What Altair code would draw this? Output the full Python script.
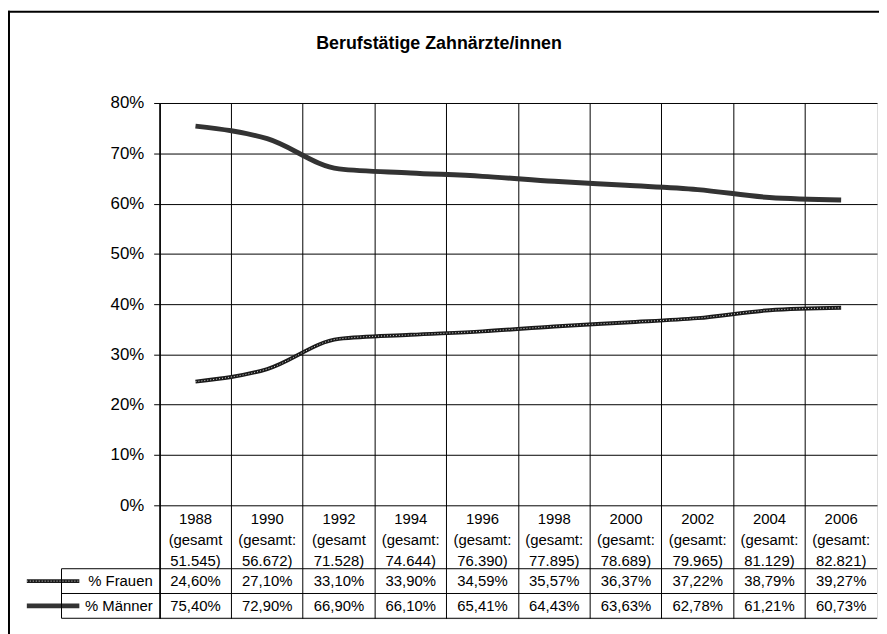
import altair as alt
import pandas as pd

# ---- data ----
years = ["1988", "1990", "1992", "1994", "1996", "1998", "2000", "2002", "2004", "2006"]
gesamt_prefix = ["(gesamt", "(gesamt:", "(gesamt", "(gesamt:", "(gesamt:", "(gesamt:",
                 "(gesamt:", "(gesamt:", "(gesamt:", "(gesamt:"]
gesamt_total = ["51.545", "56.672", "71.528", "74.644", "76.390", "77.895",
                "78.689", "79.965", "81.129", "82.821"]
frauen = [24.60, 27.10, 33.10, 33.90, 34.59, 35.57, 36.37, 37.22, 38.79, 39.27]
maenner = [75.40, 72.90, 66.90, 66.10, 65.41, 64.43, 63.63, 62.78, 61.21, 60.73]
series_names = ["% Frauen", "% Männer"]
y_ticks = [i / 10 for i in range(9)]
title_text = "Berufstätige Zahnärzte/innen"

FONT = "Liberation Sans"

# ---- layout (plot area + data table share one y scale) ----
W, H = 724, 520
PX_PER_UNIT = 507.5
Y_TOP = 0.8


def y_at(px):
    return Y_TOP - px / PX_PER_UNIT


Y_MIN = y_at(H)
ROW1 = y_at(470)
ROW2 = y_at(495)
HEAD_FIRST = y_at(420)
FR_C = y_at(482.5)
MA_C = y_at(507.5)


def de_pct(v):
    return f"{v:.2f}".replace(".", ",") + "%"


fr_df = pd.DataFrame({"year": years, "value": [v / 100 for v in frauen]})
ma_df = pd.DataFrame({"year": years, "value": [v / 100 for v in maenner]})

head_df = pd.DataFrame({
    "year": years,
    "label": [f"{y}\n{p}\n{t})" for y, p, t in zip(years, gesamt_prefix, gesamt_total)],
    "ypos": [HEAD_FIRST] * len(years),
})
vals_df = pd.DataFrame({
    "year": years * 2,
    "label": [de_pct(v) for v in frauen] + [de_pct(v) for v in maenner],
    "ypos": [FR_C] * len(years) + [MA_C] * len(years),
})
names_df = pd.DataFrame({"name": series_names, "ypos": [FR_C, MA_C]})
hlines_df = pd.DataFrame({"ypos": [ROW1, ROW2, Y_MIN]})
title_df = pd.DataFrame({"t": [title_text]})

x_scale = alt.Scale(domain=years, type="band", paddingInner=0, paddingOuter=0)
y_scale = alt.Scale(domain=[Y_MIN, Y_TOP], nice=False, zero=False)

x_axis = alt.Axis(grid=True, gridColor="black", gridWidth=1, bandPosition=0,
                  labels=False, ticks=False, domain=False, title=None)
y_axis = alt.Axis(values=y_ticks, format=".0%", labelFontSize=17, labelFont=FONT,
                  labelColor="black", tickColor="black", tickSize=6, tickWidth=1,
                  domainColor="black", domainWidth=1.5, gridColor="black", gridWidth=1,
                  grid=True, labelPadding=10, title=None)

X = alt.X("year:N", scale=x_scale, bandPosition=0.5, axis=x_axis)


def Y(field="value"):
    return alt.Y(f"{field}:Q", scale=y_scale, axis=y_axis)


ma_line = alt.Chart(ma_df).mark_line(color="#333333", strokeWidth=5, interpolate="monotone").encode(
    x=X, y=Y())
fr_line = alt.Chart(fr_df).mark_line(color="#1a1a1a", strokeWidth=4, interpolate="monotone").encode(
    x=X, y=Y())
fr_dash = alt.Chart(fr_df).mark_line(color="#dddddd", strokeWidth=1, strokeDash=[1, 2],
                                     interpolate="monotone").encode(x=X, y=Y())

head_text = alt.Chart(head_df).mark_text(font=FONT, fontSize=15, lineBreak="\n", lineHeight=21,
                                         baseline="middle", color="black").encode(
    x=X, y=Y("ypos"), text="label:N")
vals_text = alt.Chart(vals_df).mark_text(font=FONT, fontSize=15, baseline="middle", color="black").encode(
    x=X, y=Y("ypos"), text="label:N")

names_text = alt.Chart(names_df).mark_text(font=FONT, fontSize=15, baseline="middle", align="right",
                                           color="black").encode(
    x=alt.value(-7), y=Y("ypos"), text="name:N")

fr_sym = alt.Chart(names_df.iloc[[0]]).mark_rule(color="#1a1a1a", strokeWidth=4).encode(
    x=alt.value(-134), x2=alt.value(-81), y=Y("ypos"))
fr_sym_dash = alt.Chart(names_df.iloc[[0]]).mark_rule(color="#dddddd", strokeWidth=1,
                                                      strokeDash=[1, 2]).encode(
    x=alt.value(-134), x2=alt.value(-81), y=Y("ypos"))
ma_sym = alt.Chart(names_df.iloc[[1]]).mark_rule(color="#333333", strokeWidth=5).encode(
    x=alt.value(-134), x2=alt.value(-81), y=Y("ypos"))

hlines = alt.Chart(hlines_df).mark_rule(color="black", strokeWidth=1).encode(
    x=alt.value(-99), x2=alt.value(W), y=Y("ypos"))
vline = alt.Chart(hlines_df.iloc[[0]]).mark_rule(color="black", strokeWidth=1).encode(
    x=alt.value(-99), y=alt.Y(datum=ROW1, scale=y_scale, axis=y_axis), y2=alt.Y2(datum=Y_MIN))

title_mark = alt.Chart(title_df).mark_text(font=FONT, fontSize=18, fontWeight="bold",
                                           baseline="middle", align="center", color="black").encode(
    x=alt.value(282), y=alt.value(-60), text="t:N")

frame_top = alt.Chart(hlines_df.iloc[[0]]).mark_rule(color="black", strokeWidth=2).encode(
    x=alt.value(-153), x2=alt.value(W + 10), y=alt.value(-92))
frame_left = alt.Chart(hlines_df.iloc[[0]]).mark_rule(color="black", strokeWidth=2).encode(
    x=alt.value(-152), y=alt.value(-93), y2=alt.value(H + 20))

chart = alt.layer(
    ma_line, fr_line, fr_dash, head_text, vals_text, names_text,
    fr_sym, fr_sym_dash, ma_sym, hlines, vline, title_mark, frame_top, frame_left,
).properties(
    width=W, height=H,
    autosize=alt.AutoSizeParams(type="none"),
    padding={"left": 153, "top": 93, "right": 2, "bottom": 13},
).configure_view(stroke="black", strokeWidth=1).configure(background="white")

chart.save("out.html", embed_options={"renderer": "svg", "actions": False})
